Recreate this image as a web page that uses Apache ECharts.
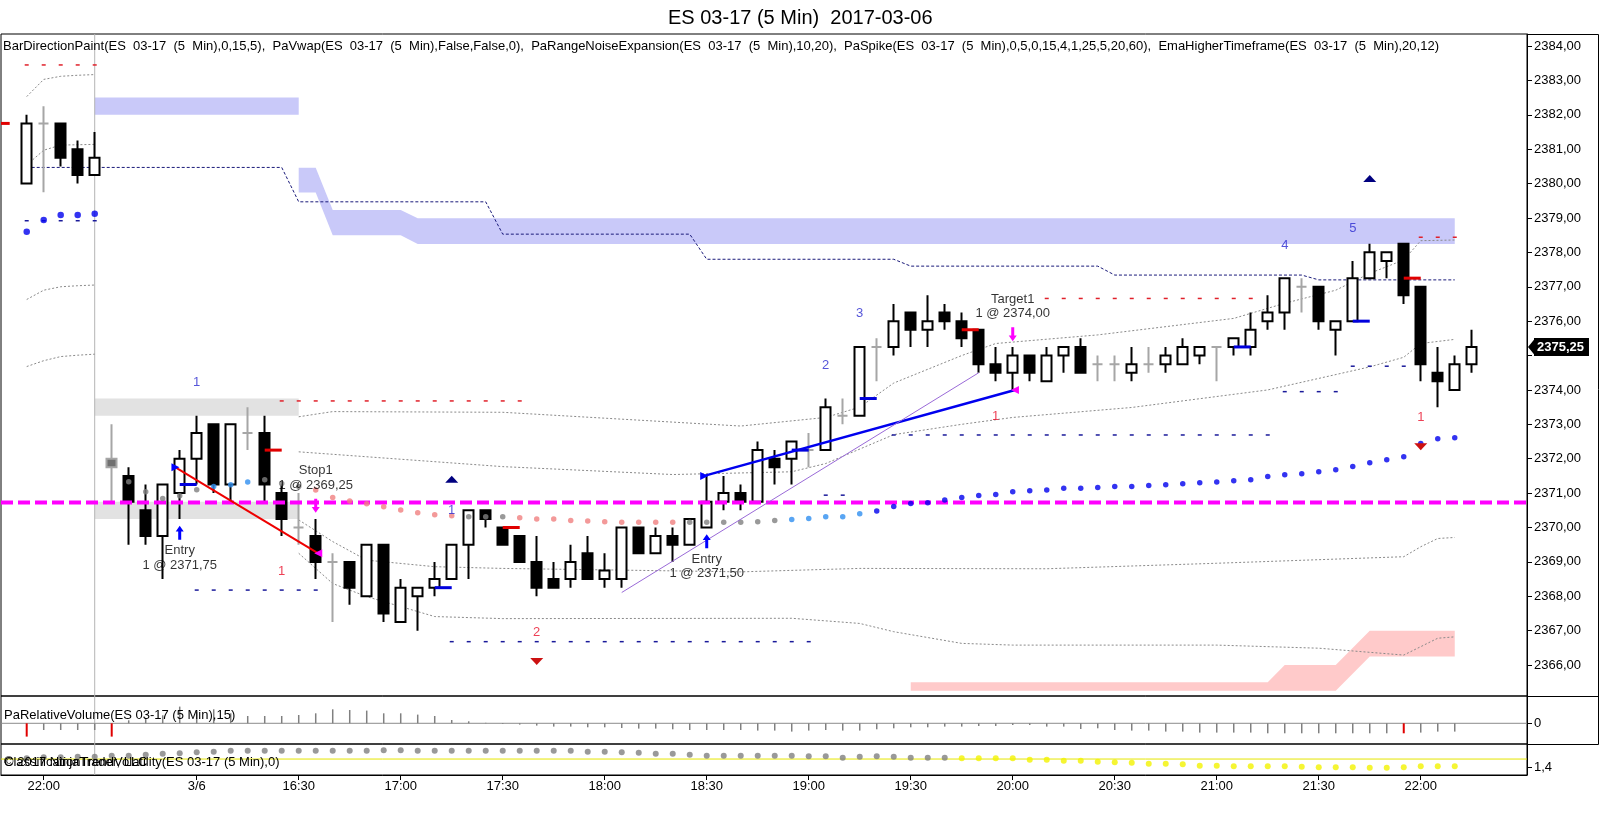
<!DOCTYPE html>
<html><head><meta charset="utf-8">
<script src="https://cdn.jsdelivr.net/npm/echarts@6/dist/echarts.min.js"></script>
<style>html,body{margin:0;padding:0;background:#fff}#c{width:1600px;height:828px}</style>
</head><body><div id="c"></div>
<script>
const FONT = '"Liberation Sans", Arial, sans-serif';
// ---------------- DATA ----------------
const xTickIdx  = [1,10,16,22,28,34,40,46,52,58,64,70,76,82];
const xTickText = ['22:00','3/6','16:30','17:00','17:30','18:00','18:30','19:00','19:30','20:00','20:30','21:00','21:30','22:00'];
const yTickVals = [2366,2367,2368,2369,2370,2371,2372,2373,2374,2375,2376,2377,2378,2379,2380,2381,2382,2383,2384];
const yLabelVals = [2366,2367,2368,2369,2370,2371,2372,2373,2374,2376,2377,2378,2379,2380,2381,2382,2383,2384];
const lastPrice = 2375.25;

const open  = [2380.0,2381.75,2381.75,2381.0,2380.25, 2371.75,2371.5,2370.5,2369.75,2371.0,2372.0,2373.0,2371.25,2372.75,2372.75,2371.0,2370.0,2369.75,2369.0,2369.0,2368.0,2369.5,2367.25,2368.0,2368.25,2368.5,2369.5,2370.5,2370.0,2369.75,2369.0,2368.5,2368.5,2369.25,2368.5,2368.5,2370.0,2369.25,2369.75,2369.5,2370.0,2370.75,2371.0,2370.75,2372.0,2372.0,2372.25,2372.25,2373.25,2373.25,2375.25,2375.25,2376.25,2375.75,2376.25,2376.0,2375.75,2374.75,2374.5,2375.0,2374.25,2375.0,2375.25,2374.75,2374.75,2374.5,2374.75,2374.75,2374.75,2375.0,2375.25,2375.25,2375.25,2376.0,2376.25,2377.0,2377.0,2375.75,2376.0,2377.25,2377.75,2378.25,2377.0,2374.5,2374.0,2374.75];
const close = [2381.75,2381.75,2380.75,2380.25,2380.75, 2372.0,2370.75,2369.75,2371.25,2372.0,2372.75,2371.25,2373.0,2372.75,2371.25,2370.25,2370.0,2369.0,2369.0,2368.25,2369.5,2367.5,2368.25,2368.25,2368.5,2369.5,2370.5,2370.25,2369.5,2369.0,2368.25,2368.25,2369.0,2368.5,2368.75,2370.0,2369.25,2369.75,2369.5,2370.25,2370.75,2371.0,2370.75,2372.25,2371.75,2372.5,2372.25,2373.5,2373.25,2375.25,2375.25,2376.0,2375.75,2376.0,2376.0,2375.5,2374.75,2374.5,2375.0,2374.5,2375.0,2375.25,2374.5,2374.75,2374.75,2374.75,2374.75,2375.0,2375.25,2375.25,2375.25,2375.5,2375.75,2376.25,2377.25,2377.0,2376.0,2376.0,2377.25,2378.0,2378.0,2376.75,2374.75,2374.25,2374.75,2375.25];
const low   = [2380.0,2379.75,2380.5,2380.0,2380.25, 2370.75,2369.5,2369.5,2368.5,2370.25,2371.25,2371.0,2370.75,2372.25,2370.75,2369.75,2369.5,2368.5,2367.25,2367.75,2368.0,2367.25,2367.25,2367.0,2368.0,2368.5,2368.5,2370.0,2369.5,2369.0,2368.0,2368.25,2368.25,2368.5,2368.25,2368.25,2369.25,2369.25,2369.0,2369.5,2370.0,2370.5,2370.5,2370.75,2371.25,2371.25,2371.75,2372.25,2373.0,2373.25,2374.25,2375.0,2375.25,2375.25,2375.75,2375.25,2374.5,2374.25,2374.0,2374.25,2374.25,2374.5,2374.5,2374.25,2374.25,2374.25,2374.5,2374.5,2374.75,2374.75,2374.25,2375.0,2375.0,2375.75,2375.75,2376.25,2375.75,2375.0,2376.0,2377.25,2377.25,2376.5,2374.25,2373.5,2374.0,2374.5];
const high  = [2382.0,2382.25,2381.75,2381.25,2381.5, 2373.0,2371.75,2371.25,2371.25,2372.25,2373.25,2373.0,2373.0,2373.5,2373.25,2371.25,2371.0,2370.25,2369.25,2369.0,2369.5,2369.5,2368.5,2368.25,2369.0,2369.5,2370.5,2370.5,2370.0,2369.75,2369.75,2369.0,2369.5,2369.75,2369.25,2370.0,2370.0,2370.0,2370.0,2370.25,2371.5,2371.5,2371.25,2372.5,2372.25,2372.5,2372.75,2373.75,2373.75,2375.25,2375.5,2376.5,2376.25,2376.75,2376.5,2376.25,2375.75,2375.25,2375.25,2375.0,2375.25,2375.25,2375.5,2375.0,2375.0,2375.25,2375.25,2375.25,2375.5,2375.25,2375.25,2375.5,2376.25,2376.75,2377.25,2377.25,2377.0,2376.0,2377.75,2378.25,2378.0,2378.25,2377.0,2375.25,2375.0,2375.75];
const grayBars = [1,5,13,16,18,46,48,50,63,64,66,70,75];

// EmaHigherTimeframe dots (null = no dot) and colour codes per bar
const emaVal = [2378.60,2378.94,2379.09,2379.09,2379.12,null,
 2371.33,2371.04,2370.84,2370.92,2371.10,2371.19,2371.24,2371.32,2371.39,2371.28,2371.19,
 2371.09,2370.87,2370.77,2370.69,2370.60,2370.51,2370.43,2370.37,2370.34,
 2370.31,2370.31,2370.31,2370.28,2370.25,2370.25,2370.20,2370.19,2370.17,2370.15,2370.15,2370.15,2370.15,
 2370.15,2370.15,2370.15,2370.15,2370.17,2370.20,2370.23,2370.26,2370.31,2370.31,2370.40,
 2370.48,2370.61,2370.70,2370.72,2370.80,2370.87,2370.93,2370.96,2371.04,2371.07,2371.09,2371.14,2371.14,2371.16,2371.19,2371.19,2371.22,2371.24,2371.27,2371.30,2371.32,2371.36,2371.39,2371.48,2371.53,2371.56,2371.62,2371.68,2371.77,2371.88,2371.97,2372.06,2372.44,2372.58,2372.61,null];
const emaCol = 'bbbbb' + '-' + 'ggggg' + 'lll' + 'ggg' + 'sssssssss' + 'ggg' + 'ssssssssss' + 'gggggg' + 'lllll' +
               'bbbbbbbbbb' + 'bbbbbbbbbb' + 'bbbbbbbbbb' + 'bbbbb' + '-';

// PaRelativeVolume (nominal units) and ClassificationTrendVolatility dots
const relVolume = [-13.3,-6.7,-6.7,-6.7,-6.7,-13.3,3,5,8,16.7,11.7,14,10,7.3,7.3,7.3,8.3,10,14,13.3,12.7,10,10,8.7,7.3,3.3,2,0.5,-0.7,-1.3,-2.3,-3.3,-3.3,-4,-4,-4.7,-5.3,-5.3,-6,-6.7,-6.7,-6.7,-6.7,-7.3,-7.3,-8.3,-7.3,-6.7,-7.3,-7.3,-6,-5,-4,-4,-3.3,-3.3,-2.7,-2.7,-1.7,-1.7,-3.3,-3.3,-5.7,-5,-6.7,-7.3,-7.3,-8.3,-8.3,-9.3,-9.3,-9.3,-9.3,-10,-10,-10,-10,-10,-10,-10,-10,-10,-9.3,-8.3,-8.3,null];
const redVolumeBars = [0,5,81];
const classVal = [
 1.58,1.60,1.60,1.61,1.61,1.63,1.63,1.65,1.67,1.68,
 1.70,1.71,1.73,1.73,1.73,1.73,1.73,1.73,1.73,1.73,
 1.73,1.74,1.74,1.73,1.73,1.73,1.73,1.73,1.73,1.73,
 1.73,1.73,1.73,1.71,1.71,1.70,1.69,1.67,1.67,1.65,
 1.63,1.63,1.63,1.63,1.63,1.63,1.62,1.62,1.59,1.61,
 1.62,1.61,1.59,1.59,1.59,1.58,1.58,1.58,1.58,1.55,
 1.55,1.53,1.53,1.51,1.50,1.49,1.47,1.47,1.46,1.43,
 1.43,1.42,1.42,1.42,1.42,1.41,1.40,1.40,1.40,1.39,
 1.39,1.40,1.42,1.42,1.42,null];
const classYellowFrom = 55;
const classLevel = 1.565;
const zeroLevel = 0;

// zones [bar, price]
const zoneHighTop = [[4,2382.5],[16,2382.5]];
const zoneHighBot = [[4,2382.0],[16,2382.0]];
const zoneBlueTop = [[16,2380.46],[17,2380.46],[18,2379.23],[22,2379.23],[23,2378.99],[84,2378.99]];
const zoneBlueBot = [[16,2379.74],[17,2379.74],[18,2378.5],[22,2378.5],[23,2378.24],[84,2378.24]];
const zoneGrayATop = [[4,2373.75],[16,2373.75]];
const zoneGrayABot = [[4,2373.25],[16,2373.25]];
const zoneGrayBTop = [[4,2370.75],[16,2370.75]];
const zoneGrayBBot = [[4,2370.25],[16,2370.25]];
const zonePinkTop = [[52,2365.5],[73,2365.5],[74,2366.0],[77,2366.0],[79,2367.0],[84,2367.0]];
const zonePinkBot = [[52,2365.25],[77,2365.25],[79,2366.25],[84,2366.25]];

// PaRangeNoiseExpansion curves
const noiseS1a = [[0,2382.53],[1,2383.03],[2,2383.12],[3,2383.15],[4,2383.17]];
const noiseS1b = [[0,2380.54],[1,2380.97],[2,2381.12],[3,2381.13],[4,2381.14]];
const noiseS1c = [[0,2376.63],[1,2376.9],[2,2377.0],[3,2377.03],[4,2377.05]];
const noiseS1d = [[0,2374.68],[1,2374.85],[2,2374.97],[3,2375.01],[4,2375.04]];
const noiseS2a = [[16,2373.22],[18,2373.37],[28,2373.35],[42,2372.95],[47,2373.2],[49,2373.5],[51,2374.2],[55,2375.0],[57,2375.35],[63,2375.6],[71,2376.08],[74,2376.52],[77,2376.9],[79,2377.39],[81,2377.78],[82,2378.34],[84,2378.36]];
const noiseS2b = [[16,2372.2],[28,2371.77],[38,2371.54],[45,2371.62],[47,2371.86],[51,2372.7],[55,2373.0],[58,2373.2],[65,2373.49],[73,2374.0],[79,2374.67],[81,2374.95],[82,2375.35],[84,2375.47]];
const noiseS2c = [[16,2370.22],[18,2369.59],[20,2369.05],[24,2368.86],[28,2368.81],[42,2368.71],[49,2368.81],[60,2368.8],[70,2368.96],[81,2369.15],[82,2369.44],[83,2369.68],[84,2369.71]];
const noiseS2d = [[16,2369.25],[18,2368.37],[20,2367.99],[24,2367.41],[28,2367.35],[45,2367.36],[49,2367.21],[51,2366.97],[55,2366.63],[58,2366.58],[70,2366.58],[76,2366.49],[81,2366.29],[83,2366.78],[84,2366.82]];

// PaVwap step line
const vwapLine = [[0,2380.47],[15,2380.47],[16,2379.47],[27,2379.47],[28,2378.53],[39,2378.53],[40,2377.8],[51,2377.8],[52,2377.6],[63,2377.6],[64,2377.34],[75,2377.34],[76,2377.2],[84,2377.2]];

// short dashed levels [fromBar, toBar, price]
const redLevels  = [[0,4,2383.45],[15,29,2373.68],[60,72,2376.66],[82,84,2378.44]];
const navyLevels = [[0,4,2378.92],[10,17,2368.18],[25,46,2366.68],[47,48,2370.94],[51,73,2372.69],[74,77,2373.95],[78,81,2374.69]];
// one-bar ticks [bar, price]
const redTicks  = [[-2,2381.75],[14,2372.25],[28,2370.0],[55,2375.75],[81,2377.25]];
const blueTicks = [[9,2371.25],[24,2368.25],[45,2372.25],[49,2373.75],[71,2375.25],[78,2376.0]];

const magentaLevel = 2370.73;
const sessionBreak = 4;

// trades and markers
const tradeLoss = [[8.75,2371.75],[17.15,2369.25]];
const tradeWin  = [[39.85,2371.5],[58.13,2374.0]];
const trendLine = [[35,2368.11],[56,2374.5]];
const entryArrows = [[9,2369.85],[40,2369.6]];
const exitArrows  = [[17,2370.63],[58,2375.62]];
const entryTris = [[8.75,2371.75],[39.85,2371.5]];
const exitTris  = [[17.15,2369.25],[58.13,2374.0]];
const upTris    = [[25,2371.40],[79,2380.15]];
const downTris  = [[30,2366.10],[82,2372.35]];
const blueNums = [[10,2374.21,'1'],[25,2370.51,'1'],[47,2374.72,'2'],[49,2376.23,'3'],[74,2378.19,'4'],[78,2378.70,'5']];
const redNums  = [[15,2368.71,'1'],[30,2366.94,'2'],[57,2373.22,'1'],[82,2373.2,'1']];
const tradeTexts = [[9,2369.34,'Entry'],[9,2368.91,'1 @ 2371,75'],[17,2371.67,'Stop1'],[17,2371.23,'1 @ 2369,25'],
                    [40,2369.07,'Entry'],[40,2368.65,'1 @ 2371,50'],[58,2376.63,'Target1'],[58,2376.23,'1 @ 2374,00']];

// ---------------- CHART ----------------
const X_MIN = -1.512, X_MAX = 88.25;
const Y0 = [2365.1, 2384.35], Y1 = [-20.7, 27.3], Y2 = [1.246, 1.866];
const EMA_COLORS = {b:'#0000ee', g:'#7f7f7f', l:'#2f8ff0', s:'#f08080'};
const fmt = v => v.toFixed(2).replace('.', ',');

function band(top, bot, color) {
  return {type:'custom', xAxisIndex:0, yAxisIndex:0, z:1, silent:true, clip:true,
    data:[[top[0][0], top[0][1]]],
    renderItem(params, api) {
      const pts = top.map(p => api.coord(p)).concat(bot.slice().reverse().map(p => api.coord(p)));
      return {type:'polygon', shape:{points:pts}, style:{fill:color}};
    }};
}
function curve(pts, color, width, dash, z) {
  return {type:'line', xAxisIndex:0, yAxisIndex:0, data:pts, symbol:'none', silent:true, z:z||2,
    lineStyle:{color, width, type:dash}};
}
function dashPts(levels) {
  const out = [];
  levels.forEach(([a,b,p]) => { for (let i = a; i <= b; i++) out.push([i,p]); });
  return out;
}
function ticks(list, color) {
  return {type:'custom', xAxisIndex:0, yAxisIndex:0, clip:true, z:6, silent:true, data:list,
    renderItem(params, api) {
      const a = api.coord([api.value(0), api.value(1)]);
      const b = api.coord([api.value(0) + 1, api.value(1)]);
      return {type:'line', shape:{x1:a[0], y1:a[1], x2:b[0], y2:b[1]}, style:{stroke:color, lineWidth:3}};
    }};
}
function markers(pts, symbol, size, color, rotate, z) {
  return {type:'scatter', xAxisIndex:0, yAxisIndex:0, data:pts, symbol, symbolSize:size, symbolRotate:rotate||0,
    itemStyle:{color, opacity:1}, silent:true, z:z||7};
}
function texts(list, color, size) {
  return {type:'scatter', xAxisIndex:0, yAxisIndex:0, z:8, silent:true, symbolSize:0.1,
    itemStyle:{color:'rgba(0,0,0,0)'},
    data:list.map(t => ({value:[t[0], t[1]], name:t[2]})),
    label:{show:true, position:'inside', formatter:'{b}', color, fontSize:size, fontFamily:FONT}};
}

const candleData = open.map((o, i) => {
  const item = {value:[i, o, close[i], low[i], high[i]]};
  if (grayBars.includes(i)) {
    const fill = i === 5 ? '#707070' : '#a6a6a6';
    item.itemStyle = {color:fill, color0:fill, borderColor:'#a6a6a6', borderColor0:'#a6a6a6'};
  }
  return item;
});
const emaData = [];
emaVal.forEach((v, i) => {
  if (v == null) return;
  emaData.push({value:[i, v], itemStyle:{color:EMA_COLORS[emaCol[i]]}, symbolSize: i < 5 ? 6.5 : 5.5});
});
const volData = [];
relVolume.forEach((v, i) => { if (v != null) volData.push([i, v]); });
const classData = [];
classVal.forEach((v, i) => { if (v != null) classData.push({value:[i, v], itemStyle:{color: i >= classYellowFrom ? '#f2f200' : '#7f7f7f'}}); });

const series = [
  band(zoneHighTop, zoneHighBot, '#c9c9f9'),
  band(zoneBlueTop, zoneBlueBot, '#c9c9f9'),
  band(zoneGrayATop, zoneGrayABot, '#e2e2e2'),
  band(zoneGrayBTop, zoneGrayBBot, '#e2e2e2'),
  band(zonePinkTop, zonePinkBot, '#ffcaca'),
  curve(noiseS1a, '#8a8a8a', 1, [2,2]), curve(noiseS1b, '#8a8a8a', 1, [2,2]),
  curve(noiseS1c, '#8a8a8a', 1, [2,2]), curve(noiseS1d, '#8a8a8a', 1, [2,2]),
  curve(noiseS2a, '#8a8a8a', 1, [2,2]), curve(noiseS2b, '#8a8a8a', 1, [2,2]),
  curve(noiseS2c, '#8a8a8a', 1, [2,2]), curve(noiseS2d, '#8a8a8a', 1, [2,2]),
  curve(vwapLine, '#1a1a7a', 1, [3,2], 3),
  {type:'line', xAxisIndex:0, yAxisIndex:0, data:[[sessionBreak, Y0[0]],[sessionBreak, Y0[1]]], symbol:'none', silent:true, z:1, lineStyle:{color:'#b4b4b4', width:1}},
  markers(dashPts(redLevels), 'rect', [4,1.5], '#e0202a', 0, 3),
  markers(dashPts(navyLevels), 'rect', [4,1.5], '#1a1a9a', 0, 3),
  {type:'candlestick', xAxisIndex:0, yAxisIndex:0, z:4, silent:true, data:candleData,
   encode:{x:0, y:[1,2,3,4]}, barWidth:10.5,
   itemStyle:{color:'#ffffff', color0:'#000000', borderColor:'#000000', borderColor0:'#000000', borderWidth:2}},
  {type:'scatter', xAxisIndex:0, yAxisIndex:0, z:5, silent:true, data:emaData, symbol:'circle'},
  {type:'line', xAxisIndex:0, yAxisIndex:0, data:[[X_MIN, magentaLevel],[X_MAX, magentaLevel]], symbol:'none', silent:true, z:5,
   lineStyle:{color:'#ff00ff', width:4, type:[12,5]}},
  curve(tradeLoss, '#ee0000', 2, 'solid', 6),
  curve(tradeWin, '#0000ee', 2.5, 'solid', 6),
  curve(trendLine, '#9a6ad8', 1, 'solid', 6),
  ticks(redTicks, '#e00000'),
  ticks(blueTicks, '#0000dd'),
  markers(entryArrows, 'path://M4,0 L8,5 L5.5,5 L5.5,12 L2.5,12 L2.5,5 L0,5 Z', [8,14], '#0000ff'),
  markers(exitArrows, 'path://M2.5,0 L5.5,0 L5.5,7 L8,7 L4,12 L0,7 L2.5,7 Z', [8,14], '#ff00ff'),
  markers(entryTris, 'triangle', [8,8], '#0000ff', -90),
  markers(exitTris, 'triangle', [8,8], '#ff00ff', 90),
  markers(upTris, 'triangle', [13,7], '#00007f'),
  markers(downTris, 'triangle', [13,7], '#cc1111', 180),
  texts(blueNums, '#2a2ad0', 13),
  texts(redNums, '#e8102a', 13),
  texts(tradeTexts, '#000000', 13),
  // sub-panel 1: relative volume
  {type:'line', xAxisIndex:1, yAxisIndex:1, data:[[X_MIN, zeroLevel],[X_MAX, zeroLevel]], symbol:'none', silent:true, z:1, lineStyle:{color:'#8c8c8c', width:1}},
  {type:'line', xAxisIndex:1, yAxisIndex:1, data:[[sessionBreak, Y1[0]],[sessionBreak, Y1[1]]], symbol:'none', silent:true, z:1, lineStyle:{color:'#b4b4b4', width:1}},
  {type:'custom', xAxisIndex:1, yAxisIndex:1, clip:true, z:3, silent:true, data:volData,
   renderItem(params, api) {
     const x = api.value(0), v = api.value(1);
     const a = api.coord([x, 0]), b = api.coord([x, v]);
     const red = redVolumeBars.includes(x);
     return {type:'line', shape:{x1:a[0], y1:a[1], x2:b[0], y2:b[1]}, style:{stroke: red ? '#e00000' : '#808080', lineWidth: red ? 2 : 1.5}};
   }},
  // sub-panel 2: classification dots
  {type:'line', xAxisIndex:2, yAxisIndex:2, data:[[X_MIN, classLevel],[X_MAX, classLevel]], symbol:'none', silent:true, z:1, lineStyle:{color:'#e6e600', width:1}},
  {type:'line', xAxisIndex:2, yAxisIndex:2, data:[[sessionBreak, Y2[0]],[sessionBreak, Y2[1]]], symbol:'none', silent:true, z:1, lineStyle:{color:'#b4b4b4', width:1}},
  {type:'scatter', xAxisIndex:2, yAxisIndex:2, z:3, silent:true, data:classData, symbol:'circle', symbolSize:6}
];

const baseGrid = {show:true, borderColor:'#000', borderWidth:1, backgroundColor:'rgba(0,0,0,0)', containLabel:false, outerBoundsMode:'none'};
const xAxes = [0,1,2].map(k => ({
  type:'value', gridIndex:k, min:X_MIN, max:X_MAX, splitLine:{show:false},
  axisLine:{show:k === 2, onZero:false, lineStyle:{color:'#000'}},
  axisTick:{show:k === 2, customValues:xTickIdx, length:5, lineStyle:{color:'#000'}},
  axisLabel:{show:k === 2, customValues:xTickIdx, formatter:v => xTickText[xTickIdx.indexOf(Math.round(v))] || '',
             color:'#000', fontSize:13, fontFamily:FONT, margin:5}
}));
const yAxes = [
  {type:'value', gridIndex:0, position:'right', min:Y0[0], max:Y0[1], splitLine:{show:false},
   axisLine:{show:true, onZero:false, lineStyle:{color:'#000'}},
   axisTick:{show:true, customValues:yTickVals, length:5, lineStyle:{color:'#000'}},
   axisLabel:{show:true, customValues:yLabelVals.concat([lastPrice]), margin:7, color:'#000', fontSize:13, fontFamily:FONT,
     formatter:v => Math.abs(v - lastPrice) < 1e-6 ? '{tag|' + fmt(v) + '}' : fmt(v),
     rich:{tag:{backgroundColor:'#000', color:'#fff', fontWeight:'bold', fontSize:13, fontFamily:FONT, padding:[3,5,2,3]}}}},
  {type:'value', gridIndex:1, position:'right', min:Y1[0], max:Y1[1], splitLine:{show:false},
   axisLine:{show:true, onZero:false, lineStyle:{color:'#000'}},
   axisTick:{show:true, customValues:[zeroLevel], length:5, lineStyle:{color:'#000'}},
   axisLabel:{show:true, customValues:[zeroLevel], formatter:() => '0', margin:7, color:'#000', fontSize:13, fontFamily:FONT}},
  {type:'value', gridIndex:2, position:'right', min:Y2[0], max:Y2[1], splitLine:{show:false},
   axisLine:{show:true, onZero:false, lineStyle:{color:'#000'}},
   axisTick:{show:true, customValues:[1.4], length:5, lineStyle:{color:'#000'}},
   axisLabel:{show:true, customValues:[1.4], formatter:v => fmt(v).replace(/0$/, ''), margin:7, color:'#000', fontSize:13, fontFamily:FONT}}
];

const legendText = 'BarDirectionPaint(ES  03-17  (5  Min),0,15,5),  PaVwap(ES  03-17  (5  Min),False,False,0),  PaRangeNoiseExpansion(ES  03-17  (5  Min),10,20),  PaSpike(ES  03-17  (5  Min),0,5,0,15,4,1,25,5,20,60),  EmaHigherTimeframe(ES  03-17  (5  Min),20,12)';
const lineStyleBlack = {stroke:'#000', lineWidth:1};

const chart = echarts.init(document.getElementById('c'), null, {renderer:'canvas'});
const graphics = [
  {type:'text', left:3, top:40, z:10, silent:true, style:{text:legendText, font:'13px ' + FONT, fill:'#000'}},
  {type:'text', left:4, top:709, z:10, silent:true, style:{text:'PaRelativeVolume(ES 03-17 (5 Min),15)', font:'13px ' + FONT, fill:'#000'}},
  {type:'text', left:4, top:756, z:10, silent:true, style:{text:'ClassificationTrendVolatility(ES 03-17 (5 Min),0)', font:'13px ' + FONT, fill:'#000'}},
  {type:'text', left:4, top:756, z:10, silent:true, style:{text:'\u00A9 2017 NinjaTrader, LLC', font:'13px ' + FONT, fill:'#000'}},
  {type:'line', silent:true, shape:{x1:1527, y1:34.5, x2:1598.5, y2:34.5}, style:lineStyleBlack},
  {type:'line', silent:true, shape:{x1:1527, y1:696.5, x2:1598.5, y2:696.5}, style:lineStyleBlack},
  {type:'line', silent:true, shape:{x1:1527, y1:744.5, x2:1598.5, y2:744.5}, style:lineStyleBlack},
  {type:'line', silent:true, shape:{x1:1598.5, y1:34.5, x2:1598.5, y2:744.5}, style:lineStyleBlack}
];
chart.setOption({
  animation:false,
  backgroundColor:'#ffffff',
  title:{text:'ES 03-17 (5 Min)  2017-03-06', left:663, top:3,
         textStyle:{fontSize:20, fontWeight:'normal', fontFamily:FONT, color:'#000'}},
  grid:[
    Object.assign({left:1, top:34, width:1526, height:662}, baseGrid),
    Object.assign({left:1, top:696, width:1526, height:48}, baseGrid),
    Object.assign({left:1, top:744, width:1526, height:31}, baseGrid)
  ],
  xAxis:xAxes,
  yAxis:yAxes,
  series,
  graphic:graphics
});
// arrow tip of the last-price tag, placed through the axis scale
const tagY = chart.convertToPixel({yAxisIndex:0}, lastPrice);
const axisX = chart.convertToPixel({xAxisIndex:0}, X_MAX);
graphics.push({type:'polygon', silent:true, z:20, shape:{points:[[axisX + 1, tagY],[axisX + 8, tagY - 8.5],[axisX + 8, tagY + 8.5]]}, style:{fill:'#000'}});
chart.setOption({graphic:graphics});
</script>
</body></html>
